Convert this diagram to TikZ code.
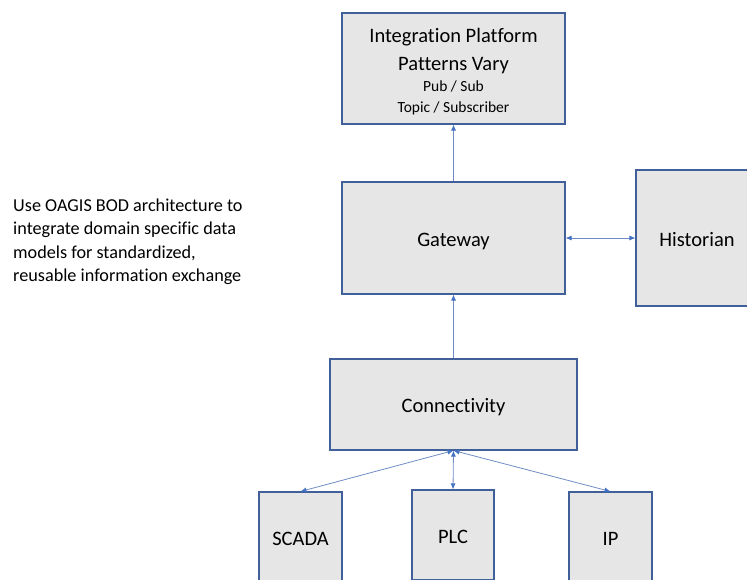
\documentclass[tikz,border=0pt]{standalone}
\usepackage{fontspec}
\setmainfont{Carlito}[Ligatures=CommonOff]
\usetikzlibrary{arrows.meta}
\definecolor{boxfill}{HTML}{E6E6E6}
\definecolor{boxline}{HTML}{41609A}
\definecolor{linkline}{HTML}{6F8CC4}
\definecolor{tipcol}{HTML}{4472C4}
\tikzset{
  block/.style={draw=boxline, line width=1.1pt, fill=boxfill, inner sep=0pt,
    text height=16pt, text depth=0pt, font=\fontsize{20.5}{24}\selectfont},
  bigline/.style={anchor=base, inner sep=0pt, font=\fontsize{20.5}{24}\selectfont},
  smallline/.style={anchor=base, inner sep=0pt, font=\fontsize{15.5}{18}\selectfont},
  link/.style={draw=linkline, line width=0.8pt},
  tip/.style={-{Latex[length=6pt,width=5pt,color=tipcol]}},
  both/.style={{Latex[length=6pt,width=5pt,color=tipcol]}-{Latex[length=6pt,width=5pt,color=tipcol]}},
}
\begin{document}
\begin{tikzpicture}[x=1pt,y=-1pt]
\useasboundingbox (0,0) rectangle (747,579);
\clip (0,0) rectangle (747,579);
% integration platform box and its four lines of text
\node[block, minimum width=223pt, minimum height=111pt] (platform) at (453.5,68.5) {};
\node[bigline] (pl1) at (453.5,42) {Integration Platform};
\node[bigline] (pl2) at (453.5,70.5) {Patterns Vary};
\node[smallline] (pl3) at (453.5,91) {Pub / Sub};
\node[smallline] (pl4) at (453.5,112) {Topic / Subscriber};
% gateway, historian, connectivity
\node[block, minimum width=223pt, minimum height=112pt] (gateway) at (453.5,238) {Gateway};
\node[block, minimum width=122pt, minimum height=136pt] (historian) at (697,238) {Historian};
\node[block, minimum width=247pt, minimum height=91pt] (conn) at (453.5,404.5) {Connectivity};
% field devices
\node[block, minimum width=83pt, minimum height=90pt] (scada) at (300.5,537) {SCADA};
\node[block, minimum width=82pt, minimum height=90pt] (plc) at (453,535) {PLC};
\node[block, minimum width=83pt, minimum height=90pt] (ip) at (610.5,537) {IP};
% note (base anchor sits on the last line)
\node[anchor=base west, align=left, inner sep=0pt,
  font=\fontsize{18.2}{23.5}\selectfont] (note) at (13,281.5)
  {Use OAGIS BOD architecture to\\ integrate domain specific data\\ models for standardized,\\ reusable information exchange};
% connectors
\draw[link, tip] (gateway.north) -- (platform.south);
\draw[link, tip] (conn.north) -- (gateway.south);
\draw[link, both] (gateway.east) -- (historian.west);
\draw[link, both] (conn.south) -- (scada.north);
\draw[link, both] (conn.south) -- (plc.north);
\draw[link, both] (conn.south) -- (ip.north);
\end{tikzpicture}
\end{document}
